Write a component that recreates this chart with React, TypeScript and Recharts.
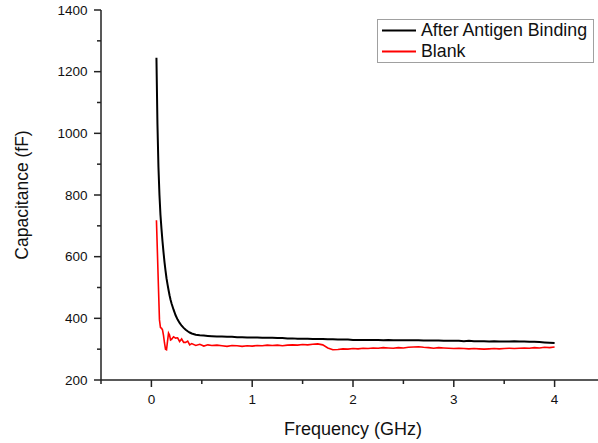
import React from 'react';
import { LineChart, Line, XAxis, YAxis, Legend } from 'recharts';

// frequency points (GHz)
const freqs = [
  0.05, 0.06, 0.07, 0.08, 0.09, 0.1, 0.11, 0.12, 0.13, 0.14, 0.15, 0.16, 0.17, 0.18, 0.19, 0.2,
  0.22, 0.24, 0.26, 0.28, 0.3, 0.32, 0.34, 0.36, 0.38, 0.4,
  0.44, 0.48, 0.52, 0.56, 0.6,
  0.65, 0.7, 0.75, 0.8, 0.85, 0.9, 0.95, 1.0, 1.05, 1.1,
  1.15, 1.2, 1.25, 1.3, 1.35, 1.4, 1.45, 1.5, 1.55, 1.6,
  1.65, 1.7, 1.75, 1.8, 1.85, 1.9, 1.95, 2.0, 2.05, 2.1,
  2.15, 2.2, 2.25, 2.3, 2.35, 2.4, 2.45, 2.5, 2.55, 2.6,
  2.65, 2.7, 2.75, 2.8, 2.85, 2.9, 2.95, 3.0, 3.05, 3.1,
  3.15, 3.2, 3.25, 3.3, 3.35, 3.4, 3.45, 3.5, 3.55, 3.6,
  3.65, 3.7, 3.75, 3.8, 3.85, 3.9, 3.95, 4.0,
];

// capacitance (fF) after antigen binding
const afterBinding = [
  1245, 1030, 890, 800, 735, 690, 650, 615, 582, 555, 530, 510, 492, 475, 460, 448,
  428, 410, 396, 385, 376, 369, 363, 358, 354, 351,
  347, 345, 344, 343, 342,
  341, 341, 340, 340, 339, 339, 338, 338, 338, 337,
  337, 337, 336, 336, 335, 335, 334, 334, 334, 333,
  333, 333, 332, 332, 331, 331, 331, 330, 330, 330,
  330, 330, 330, 329, 330, 329, 329, 329, 329, 329,
  329, 328, 328, 328, 328, 327, 327, 327, 327, 326,
  327, 326, 326, 326, 325, 326, 325, 325, 325, 326,
  325, 325, 324, 324, 323, 322, 321, 320,
];

// capacitance (fF) blank
const blank = [
  718, 610, 500, 395, 370, 368, 363, 345, 320, 300, 298, 326, 352, 346, 330, 332,
  340, 336, 337, 325, 333, 322, 322, 326, 314, 318,
  312, 316, 310, 314, 312,
  313, 311, 309, 312, 311, 309, 311, 310, 312, 311,
  313, 312, 313, 311, 313, 314, 313, 315, 314, 316,
  317, 314, 304, 298, 299, 301, 300, 302, 301, 303,
  302, 304, 303, 305, 304, 303, 305, 304, 306, 307,
  308, 306, 305, 303, 305, 304, 303, 302, 303, 302,
  301, 302, 301, 300, 301, 302, 301, 302, 303, 302,
  303, 304, 303, 305, 304, 306, 305, 307,
];

const xTicks = [-0.5, 0, 0.5, 1, 1.5, 2, 2.5, 3, 3.5, 4, 4.5];
const yTicks = [200, 300, 400, 500, 600, 700, 800, 900, 1000, 1100, 1200, 1300, 1400];

const data = freqs.map((f, i) => ({ f, after: afterBinding[i], blank: blank[i] }));

const FONT = '"Liberation Sans", Arial, sans-serif';
const AXIS = '#222';

const BottomTick = ({ x, y, payload }: any) => {
  const major = Number.isInteger(payload.value);
  return (
    <g>
      <line x1={x} x2={x} y1={y} y2={y + (major ? 7 : 4)} stroke={AXIS} strokeWidth={1.5} />
      {major && (
        <text x={x} y={y + 24} textAnchor="middle" fontFamily={FONT} fontSize={13.5} fill="#111">
          {payload.value}
        </text>
      )}
    </g>
  );
};

const TopTick = ({ x, y, payload }: any) => {
  const major = Number.isInteger(payload.value);
  return <line x1={x} x2={x} y1={y} y2={y + (major ? 6 : 4)} stroke={AXIS} strokeWidth={1.5} />;
};

const LeftTick = ({ x, y, payload }: any) => {
  const major = payload.value % 200 === 0;
  return (
    <g>
      <line x1={x} x2={x - (major ? 7 : 4)} y1={y} y2={y} stroke={AXIS} strokeWidth={1.5} />
      {major && (
        <text x={x - 13.5} y={y + 4.8} textAnchor="end" fontFamily={FONT} fontSize={13.5} fill="#111">
          {payload.value}
        </text>
      )}
    </g>
  );
};

const YTitle = ({ viewBox }: any) => {
  const cy = viewBox.y + viewBox.height / 2;
  return (
    <text x={28} y={cy} transform={`rotate(-90 28 ${cy})`} textAnchor="middle" fontFamily={FONT} fontSize={17.5} fill="#111">
      Capacitance (fF)
    </text>
  );
};

const LegendBox = ({ payload }: any) => (
  <div
    style={{
      boxSizing: 'border-box', width: 217, height: 44, border: '1px solid #a0a0a0', background: '#fff',
      fontFamily: FONT, fontSize: 17.8, color: '#111',
    }}
  >
    {(payload || []).map((p: any) => (
      <div key={p.value} style={{ display: 'flex', alignItems: 'center', height: 21 }}>
        <svg width={40} height={21} style={{ flex: 'none' }}>
          <line x1={4} x2={38} y1={10.5} y2={10.5} stroke={p.color} strokeWidth={2} />
        </svg>
        <span style={{ marginLeft: 3, lineHeight: '21px', whiteSpace: 'nowrap' }}>{p.value}</span>
      </div>
    ))}
  </div>
);

export default function App() {
  return (
    <div style={{ position: 'absolute', left: 0, top: 0, width: 598, height: 443, overflow: 'hidden', background: '#fff' }}>
      <LineChart width={620} height={443} data={data} margin={{ top: 10, right: 15, bottom: 0, left: 0 }}>
        <XAxis
          dataKey="f"
          type="number"
          domain={[-0.5, 4.5]}
          ticks={xTicks}
          interval={0}
          height={63}
          tickSize={0}
          tickMargin={0}
          tickLine={false}
          tick={<BottomTick />}
          axisLine={{ stroke: AXIS, strokeWidth: 1.5 }}
          label={{ value: 'Frequency (GHz)', position: 'insideBottom', offset: 8, fontFamily: FONT, fontSize: 18, fill: '#111' }}
        />
        <XAxis
          xAxisId="top"
          orientation="top"
          type="number"
          domain={[-0.5, 4.5]}
          ticks={xTicks}
          interval={0}
          height={0}
          tickSize={0}
          tickMargin={0}
          tickLine={false}
          tick={<TopTick />}
          axisLine={{ stroke: AXIS, strokeWidth: 1.5 }}
        />
        <YAxis
          type="number"
          domain={[200, 1400]}
          ticks={yTicks}
          interval={0}
          width={101}
          tickSize={0}
          tickMargin={0}
          tickLine={false}
          tick={<LeftTick />}
          axisLine={{ stroke: AXIS, strokeWidth: 1.5 }}
          label={<YTitle />}
        />
        <Legend
          layout="horizontal"
          verticalAlign="middle"
          align="center"
          content={<LegendBox />}
          wrapperStyle={{ position: 'absolute', left: 377, top: 19, width: 217, height: 44 }}
        />
        <Line name="After Antigen Binding" dataKey="after" type="linear" stroke="#000" strokeWidth={2} dot={false} isAnimationActive={false} />
        <Line name="Blank" dataKey="blank" type="linear" stroke="#ff0000" strokeWidth={1.6} dot={false} isAnimationActive={false} />
      </LineChart>
    </div>
  );
}
